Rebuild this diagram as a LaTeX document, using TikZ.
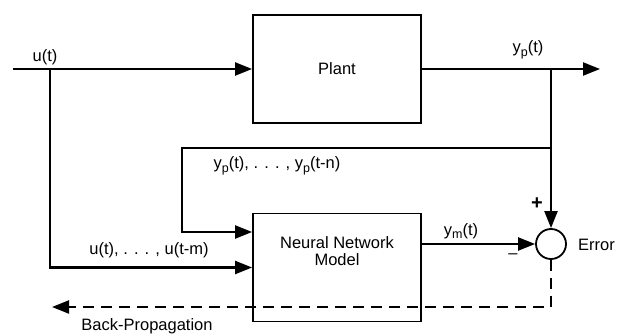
\documentclass[tikz,border=0pt]{standalone}
\usepackage{fontspec}
\setmainfont{Liberation Sans}
\usetikzlibrary{arrows.meta,positioning}
\newcommand{\lowsub}[1]{\raisebox{-0.45ex}{\fontsize{12.5}{13}\selectfont #1}}

\begin{document}
\begin{tikzpicture}[x=1pt,y=-1pt,>={Triangle[length=17pt,width=13pt]},line width=2.2pt,
  font=\fontsize{16.5}{20}\selectfont,
  block/.style={draw,line width=1.8pt,minimum width=168pt,minimum height=108pt,inner sep=0pt},
  sumnode/.style={draw,circle,line width=1.8pt,minimum size=30pt,inner sep=0pt},
  lbl/.style={inner sep=1pt},
  bp/.style={dash pattern=on 11pt off 7pt}]
  \useasboundingbox (0,0) rectangle (617,336);
  \node[block] (plant) at (337,69) {Plant};
  \node[block] (nnm) at (337,267.5) {};
  \node[lbl,align=center] (nnmtxt) at ([yshift=16pt]nnm.center) {Neural Network\\[-3pt]Model};
  \node[sumnode] (err) at (551,244) {};
  \coordinate (in) at (13,69);
  \coordinate (tapu) at (50,69);
  \coordinate (out) at (600,69);
  \coordinate (tapy) at (551,69);
  \coordinate (tapf) at (551,148);
  \coordinate (fbcorner) at (182,148);
  \coordinate (nnin) at ([yshift=35.5pt]nnm.west);
  \coordinate (bpend) at (52,307);
  % signal paths
  \draw[->] (in) -- (plant.west);
  \draw[->] (plant.east) -- (out);
  \draw[->] (tapu) |- (nnm.west);
  \draw[->] (tapy) -- (err.north);
  \draw[->] (tapf) -- (fbcorner) |- (nnin);
  \draw[->] (nnm.east |- err) -- (err.west);
  \draw[->,bp] (err.south) |- (bpend);
  % labels
  \node[lbl] (lu) at (45,57) {u(t)};
  \node[lbl] (lyp) at (528,50) {y\lowsub{p}(t)};
  \node[lbl] (lfb) at (277,166) {y\lowsub{p}(t), . . . , y\lowsub{p}(t-n)};
  \node[lbl] (lum) at (149,250) {u(t), . . . , u(t-m)};
  \node[lbl] (lym) at (461,231) {y\lowsub{m}(t)};
  \node[lbl,font=\fontsize{20}{22}\selectfont\bfseries] (lplus) at (537,204) {+};
  \node[lbl] (lminus) at (513,256) {--};
  \node[lbl,anchor=west] (lerr) at (576,245) {Error};
  \node[lbl] (lbp) at (147,326) {Back-Propagation};
\end{tikzpicture}
\end{document}
